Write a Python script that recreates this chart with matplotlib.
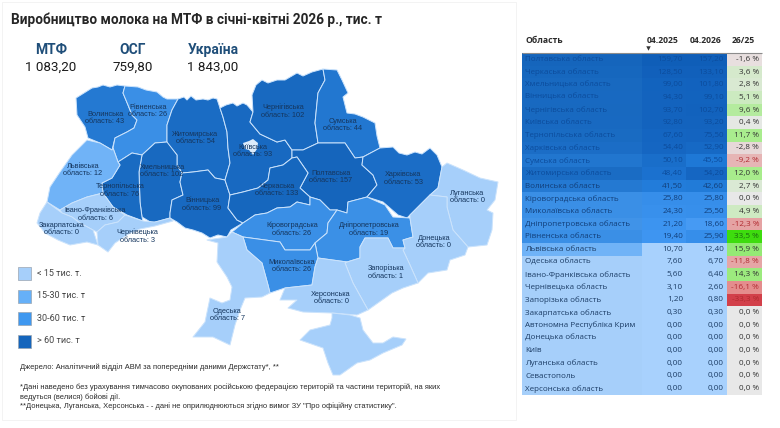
import numpy as np
import matplotlib
matplotlib.use("Agg")
import matplotlib.pyplot as plt
from matplotlib.colors import LinearSegmentedColormap, Normalize
from matplotlib.patches import Polygon, Rectangle

# --- table data ---
regions = [
    "Полтавська область", "Черкаська область", "Хмельницька область", "Вінницька область",
    "Чернігівська область", "Київська область", "Тернопільська область", "Харківська область",
    "Сумська область", "Житомирська область", "Волинська область", "Кіровоградська область",
    "Миколаївська область", "Дніпропетровська область", "Рівненська область", "Львівська область",
    "Одеська область", "Івано-Франківська область", "Чернівецька область", "Запорізька область",
    "Закарпатська область", "Автономна Республіка Крим", "Донецька область", "Київ",
    "Луганська область", "Севастополь", "Херсонська область",
]
apr_2025 = [159.7, 128.5, 99.0, 94.3, 93.7, 92.8, 67.6, 54.4, 50.1, 48.4, 41.5, 25.8, 24.3, 21.2,
            19.4, 10.7, 7.6, 5.6, 3.1, 1.2, 0.3, 0, 0, 0, 0, 0, 0]
apr_2026 = [157.2, 133.1, 101.8, 99.1, 102.7, 93.2, 75.5, 52.9, 45.5, 54.2, 42.6, 25.8, 25.5, 18.6,
            25.9, 12.4, 6.7, 6.4, 2.6, 0.8, 0.3, 0, 0, 0, 0, 0, 0]
change = [-1.6, 3.6, 2.8, 5.1, 9.6, 0.4, 11.7, -2.8, -9.2, 12.0, 2.7, 0.0, 4.9, -12.3,
          33.5, 15.9, -11.8, 14.3, -16.1, -33.3, 0, 0, 0, 0, 0, 0, 0]

# --- map labels ---
map_names = ["Волинська", "Рівненська", "Житомирська", "Хмельницька", "Тернопільська", "Вінницька",
             "Львівська", "Івано-Франківська", "Закарпатська", "Чернівецька", "Київська",
             "Чернігівська", "Сумська", "Полтавська", "Черкаська", "Харківська", "Луганська",
             "Кіровоградська", "Дніпропетровська", "Донецька", "Миколаївська", "Запорізька",
             "Херсонська", "Одеська"]
map_values = [43, 26, 54, 102, 76, 99, 12, 6, 0, 3, 93, 102, 44, 157, 133, 53, 0, 26, 19, 0, 26, 1, 0, 7]
label_xy = [(105, 118), (148, 111), (195, 138), (162, 171), (120, 190), (202, 204), (83, 170), (95, 214),
            (62, 229), (137, 236), (253, 151), (283, 111), (343, 125), (331, 177), (277, 190), (403, 178),
            (467, 197), (292, 229), (369, 229), (434, 242), (292, 266), (386, 272), (331, 298), (227, 315)]

# region outlines, pixel coordinates
outlines = {
    "Волинська": [(76, 98), (92, 88), (98, 87), (103, 85), (110, 87), (117, 85), (125, 86), (123, 93), (128, 105),
                  (132, 115), (137, 120), (134, 128), (127, 132), (115, 138), (112, 150), (100, 143), (88, 138),
                  (85, 127), (77, 115)],
    "Рівненська": [(125, 86), (138, 87), (146, 90), (157, 92), (163, 97), (167, 99), (178, 99), (172, 110), (167, 125),
                   (167, 142), (155, 143), (142, 155), (132, 153), (118, 162), (113, 148), (115, 138), (127, 132),
                   (134, 128), (137, 120), (132, 115), (128, 105), (123, 93)],
    "Житомирська": [(178, 99), (184, 97), (187, 100), (191, 96), (196, 100), (203, 99), (208, 100), (213, 98), (217, 99),
                    (220, 108), (223, 117), (227, 132), (228, 148), (230, 163), (225, 180), (215, 178), (208, 170),
                    (193, 172), (182, 173), (177, 165), (177, 155), (167, 143), (167, 125), (172, 110)],
    "Хмельницька": [(167, 142), (177, 155), (177, 165), (182, 173), (180, 182), (183, 195), (172, 200), (170, 213),
                    (170, 218), (152, 223), (142, 217), (140, 202), (139, 172), (142, 155), (155, 143)],
    "Тернопільська": [(118, 162), (132, 153), (142, 155), (139, 172), (140, 202), (142, 217), (143, 221), (127, 215),
                      (113, 207), (103, 193), (102, 183), (112, 178), (120, 165)],
    "Вінницька": [(182, 173), (193, 172), (208, 170), (215, 178), (225, 180), (230, 195), (228, 208), (237, 220),
                  (243, 223), (231, 230), (227, 237), (218, 235), (210, 238), (202, 233), (193, 230), (185, 228),
                  (177, 222), (170, 218), (170, 213), (172, 200), (183, 195), (180, 182)],
    "Львівська": [(87, 140), (100, 143), (112, 150), (113, 148), (118, 162), (120, 165), (112, 178), (102, 183),
                  (103, 193), (87, 197), (72, 203), (60, 210), (47, 202), (50, 187), (60, 172), (72, 155)],
    "Івано-Франківська": [(60, 210), (72, 203), (87, 197), (103, 193), (113, 207), (125, 215), (118, 222), (105, 225),
                          (97, 232), (93, 230), (80, 223), (72, 217), (62, 213)],
    "Закарпатська": [(37, 223), (40, 213), (47, 202), (62, 213), (72, 217), (80, 223), (93, 230), (98, 245), (87, 242),
                     (70, 245), (58, 240), (45, 233)],
    "Чернівецька": [(118, 222), (125, 215), (143, 221), (155, 222), (170, 218), (173, 221), (155, 226), (140, 229),
                    (130, 233), (115, 243), (108, 252), (98, 245), (97, 232), (105, 225)],
    "Київська": [(220, 108), (226, 105), (233, 103), (237, 106), (243, 103), (247, 105), (253, 112), (250, 122),
                 (260, 134), (277, 142), (285, 140), (292, 150), (292, 158), (283, 165), (270, 168), (268, 180),
                 (258, 188), (243, 192), (230, 195), (225, 180), (230, 163), (228, 148), (227, 132), (223, 117)],
    "Чернігівська": [(253, 112), (252, 95), (256, 85), (262, 80), (268, 83), (277, 80), (285, 80), (297, 73), (303, 76),
                     (312, 72), (323, 69), (325, 80), (318, 93), (315, 123), (318, 143), (303, 150), (292, 150),
                     (285, 140), (277, 142), (260, 134), (250, 122)],
    "Сумська": [(323, 69), (337, 70), (342, 80), (348, 93), (343, 97), (347, 113), (355, 114), (363, 117), (375, 123),
                (377, 136), (380, 148), (363, 157), (355, 158), (345, 143), (318, 143), (315, 123), (318, 93), (325, 80)],
    "Полтавська": [(292, 150), (303, 150), (318, 143), (345, 143), (355, 158), (363, 157), (362, 165), (373, 175),
                   (377, 185), (367, 197), (348, 202), (347, 213), (337, 210), (330, 210), (320, 200), (310, 197),
                   (300, 188), (308, 173), (297, 157), (292, 158)],
    "Черкаська": [(230, 195), (243, 192), (258, 188), (268, 180), (270, 168), (283, 165), (292, 158), (297, 157),
                  (308, 173), (300, 188), (310, 197), (310, 205), (297, 202), (290, 207), (277, 208), (267, 213),
                  (255, 215), (243, 223), (237, 220), (228, 208)],
    "Харківська": [(363, 157), (380, 148), (393, 147), (399, 153), (407, 155), (415, 152), (422, 154), (430, 148),
                   (437, 155), (442, 167), (438, 188), (430, 195), (410, 215), (407, 218), (398, 215), (383, 202),
                   (367, 197), (377, 185), (373, 175), (362, 165)],
    "Луганська": [(442, 167), (447, 163), (463, 170), (480, 178), (498, 182), (495, 200), (487, 210), (493, 213),
                  (492, 230), (487, 245), (468, 247), (453, 230), (447, 207), (447, 197), (430, 195), (438, 188)],
    "Кіровоградська": [(232, 232), (243, 223), (255, 215), (267, 213), (277, 208), (290, 207), (297, 202), (310, 205),
                       (310, 197), (320, 200), (330, 210), (337, 210), (328, 223), (327, 233), (315, 243), (310, 250),
                       (285, 250), (280, 242), (243, 237)],
    "Дніпропетровська": [(347, 213), (348, 202), (367, 197), (385, 205), (393, 217), (410, 218), (413, 237), (403, 240),
                         (405, 248), (393, 248), (388, 238), (365, 238), (360, 247), (360, 258), (347, 262), (318, 258),
                         (315, 243), (327, 233), (328, 223), (337, 210)],
    "Донецька": [(410, 215), (430, 195), (447, 197), (447, 207), (453, 230), (468, 247), (465, 255), (450, 260),
                 (447, 270), (428, 273), (418, 283), (410, 265), (403, 250), (405, 248), (403, 240), (413, 237), (410, 218)],
    "Миколаївська": [(243, 237), (280, 242), (285, 250), (310, 250), (315, 243), (318, 258), (315, 267), (312, 285),
                     (285, 288), (270, 293), (268, 285), (262, 263), (247, 250)],
    "Запорізька": [(347, 262), (360, 258), (360, 247), (365, 238), (388, 238), (393, 248), (405, 248), (403, 250),
                   (410, 265), (418, 283), (403, 288), (392, 293), (368, 310), (353, 283), (345, 263)],
    "Херсонська": [(315, 267), (318, 258), (347, 262), (345, 263), (353, 283), (368, 310), (357, 315), (332, 313),
                   (303, 312), (288, 308), (297, 300), (280, 300), (285, 288), (312, 285)],
    "Одеська": [(207, 240), (227, 237), (232, 232), (243, 237), (247, 250), (262, 263), (268, 285), (270, 293),
                (262, 297), (245, 298), (240, 310), (235, 325), (230, 345), (213, 337), (193, 337), (205, 322),
                (210, 298), (222, 303), (230, 300), (232, 287), (227, 277), (217, 262), (218, 243)],
}
crimea = [(332, 313), (350, 315), (360, 318), (363, 330), (373, 343), (383, 343), (393, 337), (406, 339), (402, 345),
          (383, 353), (370, 360), (357, 363), (340, 375), (333, 375), (328, 363), (323, 348), (300, 340), (310, 330),
          (330, 325), (332, 318)]
kyiv_city = [(243, 143), (249, 141), (253, 139), (258, 143), (257, 149), (253, 155), (249, 150), (245, 149)]

kpi_names = ["МТФ", "ОСГ", "Україна"]
kpi_values = ["1 083,20", "759,80", "1 843,00"]
legend_labels = ["< 15 тис. т.", "15-30 тис. т", "30-60 тис. т", "> 60 тис. т"]
legend_colors = ["#A6CFFA", "#66B0F8", "#3F98F0", "#1565BC"]

plt.rcParams["font.family"] = ["Open Sans", "DejaVu Sans"]


def ramp(stops):
    # colormap from (value, colour) stops
    top = stops[-1][0]
    low = stops[0][0]
    return (LinearSegmentedColormap.from_list("r", [((v - low) / (top - low), c) for v, c in stops]),
            Normalize(low, top))


map_cmap, map_norm = ramp([(0, "#A6CFFA"), (7, "#A6CFFA"), (12, "#6FB3F7"), (19, "#3A8FE6"), (26, "#3A8FE6"),
                           (44, "#2277D0"), (54, "#1A6CC4"), (160, "#1565BC")])
cell_cmap, cell_norm = ramp([(0, "#A8D1FD"), (12.4, "#A8D1FD"), (18.6, "#3F96F2"), (45, "#1E78D6"),
                             (54, "#1566C2"), (160, "#0F5EB8")])
pct_cmap, pct_norm = ramp([(-33.3, "#D2404A"), (-16.1, "#E48E8E"), (0, "#E8E8E8"), (12, "#A8EC8C"), (33.5, "#3EDC0E")])

fig = plt.figure(figsize=(7.8, 4.28), dpi=100)
ax = fig.add_axes([0, 0, 1, 1])
ax.set_xlim(0, 780)
ax.set_ylim(428, 0)
ax.axis("off")

ax.add_patch(Rectangle((2, 2), 514, 418, fill=False, ec="#F1F1F1", lw=0.6))

# --- heading and totals ---
ax.text(11, 20, "Виробництво молока на МТФ в січні-квітні 2026 р., тис. т", fontsize=9.85, fontweight="bold",
        color="#262626", family=["Roboto", "DejaVu Sans"], va="center")
for name, val, cx in zip(kpi_names, kpi_values, [51, 133, 213]):
    ax.text(cx, 50, name, fontsize=10, fontweight="bold", color="#1F4E79", ha="center", va="center",
            family=["Roboto", "DejaVu Sans"])
    ax.text(cx, 67, val, fontsize=9.6, color="#1A1A1A", ha="center", va="center", family=["Roboto", "DejaVu Sans"])

# --- map ---
value_by_name = dict(zip(map_names, map_values))
border = "#CBE3FC"
for name, pts in outlines.items():
    ax.add_patch(Polygon(pts, closed=True, fc=map_cmap(map_norm(value_by_name[name])), ec=border, lw=0.7, joinstyle="round"))
ax.add_patch(Polygon(crimea, closed=True, fc="#A6CFFA", ec=border, lw=0.7))
ax.add_patch(Polygon(kyiv_city, closed=True, fc="#DCEBFB", ec="none"))

for name, val, (lx, ly) in zip(map_names, map_values, label_xy):
    ax.text(lx, ly, f"{name}\nобласть: {val}", fontsize=5.3, color="#15365E", ha="center", va="center",
            family=["Liberation Sans"], linespacing=1.15)

# --- legend ---
for i, (lab, col) in enumerate(zip(legend_labels, legend_colors)):
    y0 = 267 + i * 22.5
    ax.add_patch(Rectangle((18, y0), 13, 13, fc=col, ec="#9AA5B0", lw=0.5))
    ax.text(37, y0 + 6.2, lab, fontsize=6.5, color="#444444", va="center", family=["Roboto"])

# --- notes ---
notes = [
    (367, "Джерело: Аналітичний відділ АВМ за попередніми даними Держстату*, **"),
    (387, "*Дані наведено без урахування тимчасово окупованих російською федерацією територій та частини територій, на яких"),
    (397, "ведуться (велися) бойові дії."),
    (406, "**Донецька, Луганська, Херсонська - - дані не оприлюднюються згідно вимог ЗУ \"Про офіційну статистику\"."),
]
for y, line in notes:
    ax.text(20, y, line, fontsize=5.45, color="#2A2A2A", va="center", family=["Liberation Sans"])

# --- table ---
row_h = (395 - 53) / len(regions)
rows = 53 + row_h * (np.arange(len(regions)) + 0.5)
col_edges = [522, 642, 686, 727, 762]
ax.barh(rows, col_edges[1] - col_edges[0], height=row_h, left=col_edges[0],
        color=[map_cmap(map_norm(v)) for v in apr_2026], linewidth=0)
ax.barh(rows, col_edges[2] - col_edges[1], height=row_h, left=col_edges[1],
        color=[cell_cmap(cell_norm(v)) for v in apr_2025], linewidth=0)
ax.barh(rows, col_edges[3] - col_edges[2], height=row_h, left=col_edges[2],
        color=[cell_cmap(cell_norm(v)) for v in apr_2026], linewidth=0)
ax.barh(rows, col_edges[4] - col_edges[3], height=row_h, left=col_edges[3],
        color=[pct_cmap(pct_norm(v)) for v in change], linewidth=0)
ax.hlines(52.5, 522, 762, color="#8C8C8C", lw=0.8)

ax.text(525, 40, "Область", fontsize=6.2, fontweight="bold", color="#2A2A2A", va="center")
ax.text(679, 40, "04.2025", fontsize=6.2, fontweight="bold", color="#2A2A2A", va="center", ha="right")
ax.text(722, 40, "04.2026", fontsize=6.2, fontweight="bold", color="#2A2A2A", va="center", ha="right")
ax.text(755, 40, "26/25", fontsize=6.2, fontweight="bold", color="#2A2A2A", va="center", ha="right")
ax.plot([648], [47.5], marker="v", ms=3.2, color="#333333", mew=0)


def fmt(v):
    return f"{v:.2f}".replace(".", ",")


for y, name, a, b, c in zip(rows, regions, apr_2025, apr_2026, change):
    tc = "#0C4C9C" if a > 45 else "#123F7A" if a > 15 else "#1C3D66"
    ax.text(525, y, name, fontsize=5.75, color=tc, va="center")
    ax.text(683, y, fmt(a), fontsize=5.9, color=tc, va="center", ha="right")
    ax.text(724, y, fmt(b), fontsize=5.9, color=tc, va="center", ha="right")
    ax.text(759, y, f"{c:.1f} %".replace(".", ","), fontsize=5.9, color="#B02A30" if c < -9 else "#333333" if c < 30 else "#1A6B10",
            va="center", ha="right")

fig.savefig("out.png", dpi=100)
